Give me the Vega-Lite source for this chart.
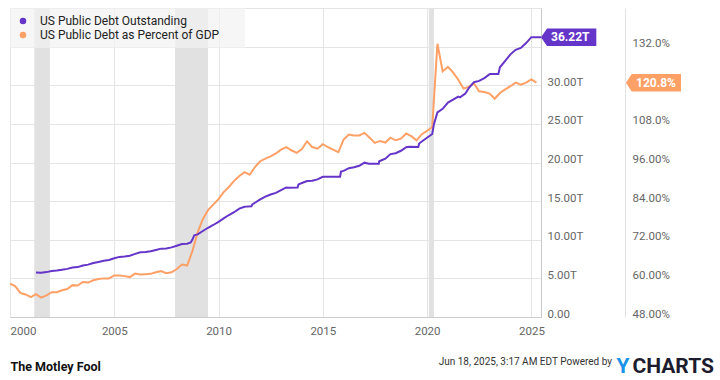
{
  "$schema": "https://vega.github.io/schema/vega-lite/v6.json",
  "width": 531,
  "height": 309,
  "autosize": {"type": "none"},
  "padding": {"left": 10, "top": 8, "right": 179, "bottom": 63},
  "background": "#ffffff",
  "config": {
    "font": "Roboto",
    "view": {"stroke": "#e2e2e2"},
    "axis": {"labelFont": "Roboto", "labelFontSize": 11.5, "labelColor": "#666666", "ticks": false, "gridColor": "#e5e5e5", "gridWidth": 1, "domainColor": "#cccccc"},
    "legend": {
      "orient": "top-left", "offset": 0, "padding": 7, "fillColor": "rgba(242,242,242,0.7)",
      "labelFont": "Roboto", "labelFontSize": 12, "labelColor": "#222222", "labelLimit": 400,
      "symbolType": "circle", "symbolSize": 42, "symbolStrokeWidth": 0, "symbolOpacity": 1,
      "rowPadding": 2, "labelOffset": 11
    }
  },
  "title": {
    "text": "Jun 18, 2025, 3:17 AM EDT Powered by",
    "orient": "bottom", "anchor": "end", "frame": "group", "dx": 71, "offset": -11,
    "baseline": "alphabetic", "align": "right",
    "font": "Roboto", "fontSize": 10, "fontWeight": "normal", "color": "#333333"
  },
  "datasets": {
    "recessions": [
      {"date": "2001-03-01", "end": "2001-11-30"},
      {"date": "2007-12-01", "end": "2009-06-30"},
      {"date": "2020-02-01", "end": "2020-04-30"}
    ],
    "debt": [
      {"date": "2001-03-31", "debt_trillions": 5.77}, {"date": "2001-06-30", "debt_trillions": 5.73}, {"date": "2001-09-30", "debt_trillions": 5.81}, {"date": "2001-12-31", "debt_trillions": 5.94},
      {"date": "2002-03-31", "debt_trillions": 6.01}, {"date": "2002-06-30", "debt_trillions": 6.13}, {"date": "2002-09-30", "debt_trillions": 6.23}, {"date": "2002-12-31", "debt_trillions": 6.41},
      {"date": "2003-03-31", "debt_trillions": 6.46}, {"date": "2003-06-30", "debt_trillions": 6.67}, {"date": "2003-09-30", "debt_trillions": 6.78}, {"date": "2003-12-31", "debt_trillions": 7.0},
      {"date": "2004-03-31", "debt_trillions": 7.13}, {"date": "2004-06-30", "debt_trillions": 7.27}, {"date": "2004-09-30", "debt_trillions": 7.38}, {"date": "2004-12-31", "debt_trillions": 7.6},
      {"date": "2005-03-31", "debt_trillions": 7.78}, {"date": "2005-06-30", "debt_trillions": 7.84}, {"date": "2005-09-30", "debt_trillions": 7.93}, {"date": "2005-12-31", "debt_trillions": 8.17},
      {"date": "2006-03-31", "debt_trillions": 8.37}, {"date": "2006-06-30", "debt_trillions": 8.42}, {"date": "2006-09-30", "debt_trillions": 8.51}, {"date": "2006-12-31", "debt_trillions": 8.68},
      {"date": "2007-03-31", "debt_trillions": 8.85}, {"date": "2007-06-30", "debt_trillions": 8.87}, {"date": "2007-09-30", "debt_trillions": 9.01}, {"date": "2007-12-31", "debt_trillions": 9.23},
      {"date": "2008-03-31", "debt_trillions": 9.44}, {"date": "2008-06-30", "debt_trillions": 9.49}, {"date": "2008-08-31", "debt_trillions": 9.64}, {"date": "2008-09-30", "debt_trillions": 10.02},
      {"date": "2008-10-31", "debt_trillions": 10.57}, {"date": "2008-12-31", "debt_trillions": 10.7},
      {"date": "2009-03-31", "debt_trillions": 11.13}, {"date": "2009-06-30", "debt_trillions": 11.55}, {"date": "2009-09-30", "debt_trillions": 11.91}, {"date": "2009-12-31", "debt_trillions": 12.31},
      {"date": "2010-03-31", "debt_trillions": 12.77}, {"date": "2010-06-30", "debt_trillions": 13.2}, {"date": "2010-09-30", "debt_trillions": 13.56}, {"date": "2010-12-31", "debt_trillions": 14.03},
      {"date": "2011-03-31", "debt_trillions": 14.27}, {"date": "2011-05-16", "debt_trillions": 14.29}, {"date": "2011-07-31", "debt_trillions": 14.34}, {"date": "2011-08-15", "debt_trillions": 14.58},
      {"date": "2011-09-30", "debt_trillions": 14.79}, {"date": "2011-12-31", "debt_trillions": 15.22},
      {"date": "2012-03-31", "debt_trillions": 15.58}, {"date": "2012-06-30", "debt_trillions": 15.86}, {"date": "2012-09-30", "debt_trillions": 16.07}, {"date": "2012-12-31", "debt_trillions": 16.43},
      {"date": "2013-03-31", "debt_trillions": 16.77}, {"date": "2013-05-19", "debt_trillions": 16.74}, {"date": "2013-10-16", "debt_trillions": 16.75}, {"date": "2013-10-31", "debt_trillions": 17.16},
      {"date": "2013-12-31", "debt_trillions": 17.35},
      {"date": "2014-03-31", "debt_trillions": 17.6}, {"date": "2014-06-30", "debt_trillions": 17.63}, {"date": "2014-09-30", "debt_trillions": 17.82}, {"date": "2014-12-31", "debt_trillions": 18.14},
      {"date": "2015-03-16", "debt_trillions": 18.15}, {"date": "2015-10-30", "debt_trillions": 18.15}, {"date": "2015-11-15", "debt_trillions": 18.82}, {"date": "2015-12-31", "debt_trillions": 18.92},
      {"date": "2016-03-31", "debt_trillions": 19.26}, {"date": "2016-06-30", "debt_trillions": 19.38}, {"date": "2016-09-30", "debt_trillions": 19.57}, {"date": "2016-12-31", "debt_trillions": 19.98},
      {"date": "2017-03-16", "debt_trillions": 19.85}, {"date": "2017-09-07", "debt_trillions": 19.85}, {"date": "2017-09-15", "debt_trillions": 20.16}, {"date": "2017-12-31", "debt_trillions": 20.49},
      {"date": "2018-03-31", "debt_trillions": 21.09}, {"date": "2018-06-30", "debt_trillions": 21.2}, {"date": "2018-09-30", "debt_trillions": 21.52}, {"date": "2018-12-31", "debt_trillions": 21.97},
      {"date": "2019-03-01", "debt_trillions": 22.03}, {"date": "2019-07-31", "debt_trillions": 22.02}, {"date": "2019-08-15", "debt_trillions": 22.45}, {"date": "2019-09-30", "debt_trillions": 22.72},
      {"date": "2019-12-31", "debt_trillions": 23.2},
      {"date": "2020-03-31", "debt_trillions": 23.69}, {"date": "2020-04-30", "debt_trillions": 24.97}, {"date": "2020-06-30", "debt_trillions": 26.48}, {"date": "2020-09-30", "debt_trillions": 26.95},
      {"date": "2020-12-31", "debt_trillions": 27.75},
      {"date": "2021-03-31", "debt_trillions": 28.13}, {"date": "2021-06-30", "debt_trillions": 28.53}, {"date": "2021-08-01", "debt_trillions": 28.43}, {"date": "2021-10-31", "debt_trillions": 28.91},
      {"date": "2021-12-31", "debt_trillions": 29.62},
      {"date": "2022-03-31", "debt_trillions": 30.4}, {"date": "2022-06-30", "debt_trillions": 30.57}, {"date": "2022-09-30", "debt_trillions": 30.93}, {"date": "2022-12-31", "debt_trillions": 31.42},
      {"date": "2023-01-19", "debt_trillions": 31.46}, {"date": "2023-06-02", "debt_trillions": 31.46}, {"date": "2023-06-30", "debt_trillions": 32.33}, {"date": "2023-09-30", "debt_trillions": 33.17},
      {"date": "2023-12-31", "debt_trillions": 34.0},
      {"date": "2024-03-31", "debt_trillions": 34.59}, {"date": "2024-06-30", "debt_trillions": 34.83}, {"date": "2024-09-30", "debt_trillions": 35.46}, {"date": "2024-12-31", "debt_trillions": 36.22},
      {"date": "2025-06-18", "debt_trillions": 36.22}
    ],
    "debt_latest": [
      {"date": "2025-06-18", "debt_trillions": 36.22, "label": "36.22T"}
    ],
    "pct": [
      {"date": "1999-12-31", "pct_of_gdp": 58.4}, {"date": "2000-03-31", "pct_of_gdp": 57.6}, {"date": "2000-06-30", "pct_of_gdp": 55.5}, {"date": "2000-09-30", "pct_of_gdp": 55.0},
      {"date": "2000-12-31", "pct_of_gdp": 54.2}, {"date": "2001-03-31", "pct_of_gdp": 55.1}, {"date": "2001-06-30", "pct_of_gdp": 54.0}, {"date": "2001-09-30", "pct_of_gdp": 54.7},
      {"date": "2001-12-31", "pct_of_gdp": 55.7}, {"date": "2002-03-31", "pct_of_gdp": 55.7}, {"date": "2002-06-30", "pct_of_gdp": 56.3}, {"date": "2002-09-30", "pct_of_gdp": 56.7},
      {"date": "2002-12-31", "pct_of_gdp": 57.9}, {"date": "2003-03-31", "pct_of_gdp": 57.8}, {"date": "2003-06-30", "pct_of_gdp": 58.9}, {"date": "2003-09-30", "pct_of_gdp": 58.7},
      {"date": "2003-12-31", "pct_of_gdp": 59.4}, {"date": "2004-03-31", "pct_of_gdp": 59.8}, {"date": "2004-06-30", "pct_of_gdp": 60.0}, {"date": "2004-09-30", "pct_of_gdp": 60.0},
      {"date": "2004-12-31", "pct_of_gdp": 60.9}, {"date": "2005-03-31", "pct_of_gdp": 60.9}, {"date": "2005-06-30", "pct_of_gdp": 60.7}, {"date": "2005-09-30", "pct_of_gdp": 60.4},
      {"date": "2005-12-31", "pct_of_gdp": 61.5}, {"date": "2006-03-31", "pct_of_gdp": 61.2}, {"date": "2006-06-30", "pct_of_gdp": 61.3}, {"date": "2006-09-30", "pct_of_gdp": 61.4},
      {"date": "2006-12-31", "pct_of_gdp": 61.9}, {"date": "2007-03-31", "pct_of_gdp": 62.3}, {"date": "2007-06-30", "pct_of_gdp": 61.6}, {"date": "2007-09-30", "pct_of_gdp": 61.9},
      {"date": "2007-12-31", "pct_of_gdp": 62.9}, {"date": "2008-03-31", "pct_of_gdp": 64.3}, {"date": "2008-06-30", "pct_of_gdp": 64.0}, {"date": "2008-09-30", "pct_of_gdp": 68.5},
      {"date": "2008-12-31", "pct_of_gdp": 74.3}, {"date": "2009-03-31", "pct_of_gdp": 78.4}, {"date": "2009-06-30", "pct_of_gdp": 81.2}, {"date": "2009-09-30", "pct_of_gdp": 82.9},
      {"date": "2009-12-31", "pct_of_gdp": 84.6}, {"date": "2010-03-31", "pct_of_gdp": 86.8}, {"date": "2010-06-30", "pct_of_gdp": 88.4}, {"date": "2010-09-30", "pct_of_gdp": 90.3},
      {"date": "2010-12-31", "pct_of_gdp": 91.8}, {"date": "2011-03-31", "pct_of_gdp": 93.0}, {"date": "2011-06-30", "pct_of_gdp": 92.2}, {"date": "2011-09-30", "pct_of_gdp": 94.6},
      {"date": "2011-12-31", "pct_of_gdp": 96.4}, {"date": "2012-03-31", "pct_of_gdp": 97.2}, {"date": "2012-06-30", "pct_of_gdp": 97.9}, {"date": "2012-09-30", "pct_of_gdp": 98.8},
      {"date": "2012-12-31", "pct_of_gdp": 100.0}, {"date": "2013-03-31", "pct_of_gdp": 100.8}, {"date": "2013-06-30", "pct_of_gdp": 99.8}, {"date": "2013-09-30", "pct_of_gdp": 99.0},
      {"date": "2013-12-31", "pct_of_gdp": 100.2}, {"date": "2014-03-31", "pct_of_gdp": 102.6}, {"date": "2014-06-30", "pct_of_gdp": 100.8}, {"date": "2014-09-30", "pct_of_gdp": 100.3},
      {"date": "2014-12-31", "pct_of_gdp": 101.7}, {"date": "2015-03-31", "pct_of_gdp": 100.8}, {"date": "2015-06-30", "pct_of_gdp": 100.0}, {"date": "2015-09-30", "pct_of_gdp": 99.2},
      {"date": "2015-12-31", "pct_of_gdp": 103.1}, {"date": "2016-03-31", "pct_of_gdp": 104.7}, {"date": "2016-06-30", "pct_of_gdp": 104.4}, {"date": "2016-09-30", "pct_of_gdp": 104.4},
      {"date": "2016-12-31", "pct_of_gdp": 105.2}, {"date": "2017-03-31", "pct_of_gdp": 103.7}, {"date": "2017-06-30", "pct_of_gdp": 102.1}, {"date": "2017-09-30", "pct_of_gdp": 102.7},
      {"date": "2017-12-31", "pct_of_gdp": 102.2}, {"date": "2018-03-31", "pct_of_gdp": 103.7}, {"date": "2018-06-30", "pct_of_gdp": 102.9}, {"date": "2018-09-30", "pct_of_gdp": 103.4},
      {"date": "2018-12-31", "pct_of_gdp": 105.0}, {"date": "2019-03-31", "pct_of_gdp": 104.2}, {"date": "2019-06-30", "pct_of_gdp": 102.9}, {"date": "2019-09-30", "pct_of_gdp": 104.8},
      {"date": "2019-12-31", "pct_of_gdp": 105.8}, {"date": "2020-03-31", "pct_of_gdp": 107.0}, {"date": "2020-06-30", "pct_of_gdp": 132.9}, {"date": "2020-09-30", "pct_of_gdp": 124.3},
      {"date": "2020-12-31", "pct_of_gdp": 125.7}, {"date": "2021-03-31", "pct_of_gdp": 124.0}, {"date": "2021-06-30", "pct_of_gdp": 121.7}, {"date": "2021-09-30", "pct_of_gdp": 119.0},
      {"date": "2021-12-31", "pct_of_gdp": 119.5}, {"date": "2022-03-31", "pct_of_gdp": 120.6}, {"date": "2022-06-30", "pct_of_gdp": 118.1}, {"date": "2022-09-30", "pct_of_gdp": 117.9},
      {"date": "2022-12-31", "pct_of_gdp": 117.4}, {"date": "2023-03-31", "pct_of_gdp": 115.8}, {"date": "2023-06-30", "pct_of_gdp": 117.6}, {"date": "2023-09-30", "pct_of_gdp": 118.7},
      {"date": "2023-12-31", "pct_of_gdp": 119.7}, {"date": "2024-03-31", "pct_of_gdp": 120.8}, {"date": "2024-06-30", "pct_of_gdp": 120.2}, {"date": "2024-09-30", "pct_of_gdp": 120.8},
      {"date": "2024-12-31", "pct_of_gdp": 121.8}, {"date": "2025-03-31", "pct_of_gdp": 120.8}
    ],
    "pct_latest": [
      {"date": "2025-06-18", "pct_of_gdp": 120.8, "label": "120.8%"}
    ]
  },
  "encoding": {
    "x": {
      "field": "date", "type": "temporal",
      "scale": {"type": "utc", "domain": [{"year": 2000, "month": 1, "date": 1, "utc": true}, {"year": 2025, "month": 6, "date": 18, "utc": true}]},
      "axis": {
        "title": "The Motley Fool", "titleAnchor": "start", "titleAlign": "left", "titleX": 0, "titleY": 53,
        "titleBaseline": "alphabetic", "titleFontSize": 12.5, "titleFontWeight": "bold", "titleColor": "#111111", "titleFont": "Roboto",
        "format": "%Y", "tickCount": {"interval": "year", "step": 5}, "labelFlush": true, "labelPadding": 8,
        "grid": true, "domainColor": "#cccccc"
      }
    }
  },
  "layer": [
    {
      "data": {"name": "recessions"},
      "mark": {"type": "rect", "color": "#e1e1e1"},
      "encoding": {"x2": {"field": "end"}}
    },
    {
      "encoding": {
        "y": {
          "field": "pct_of_gdp", "type": "quantitative",
          "scale": {"domain": [48, 144], "zero": false, "nice": false},
          "axis": {
            "orient": "right", "offset": 84, "grid": false, "domainColor": "#e2e2e2", "labelPadding": 7,
            "values": [48, 60, 72, 84, 96, 108, 120, 132, 144],
            "labelExpr": "datum.value == 120 || datum.value == 144 ? '' : format(datum.value, '.4r') + '%'",
            "labelBaseline": "alphabetic",
            "title": "CHARTS", "titleAngle": 0, "titleX": 7, "titleY": 364, "titleAlign": "left", "titleBaseline": "alphabetic",
            "titleFontSize": 21, "titleFontWeight": "bold", "titleColor": "#1c1c2e", "titleFont": "Roboto"
          }
        }
      },
      "layer": [
        {
          "data": {"name": "pct"},
          "mark": {"type": "line", "strokeWidth": 2, "clip": true},
          "encoding": {"color": {"datum": "US Public Debt as Percent of GDP", "type": "nominal"}}
        },
        {
          "data": {"name": "pct_latest"},
          "mark": {"type": "point", "shape": "M8.5,0L9.07,-0.88L14,-0.88L14,0.88L9.07,0.88Z", "size": 400, "filled": true, "opacity": 1, "color": "#ffa066", "strokeWidth": 0}
        },
        {
          "data": {"name": "pct_latest"},
          "mark": {"type": "text", "align": "left", "baseline": "middle", "dx": 95, "color": "#ffffff", "fontWeight": "bold", "fontSize": 12, "font": "Roboto"},
          "encoding": {"text": {"field": "label"}}
        }
      ]
    },
    {
      "encoding": {
        "y": {
          "field": "debt_trillions", "type": "quantitative",
          "scale": {"domain": [0, 40], "nice": false},
          "axis": {
            "orient": "right", "offset": 0, "grid": true, "domainColor": "#c8c8c8", "labelPadding": 6,
            "values": [0, 5, 10, 15, 20, 25, 30, 35, 40],
            "labelExpr": "datum.value >= 35 ? '' : datum.value == 0 ? '0.00' : format(datum.value, '.2f') + 'T'",
            "labelBaseline": "alphabetic",
            "title": "Y", "titleAngle": 0, "titleX": 75, "titleY": 364, "titleAlign": "left", "titleBaseline": "alphabetic",
            "titleFontSize": 21, "titleFontWeight": "bold", "titleColor": "#1b93e8", "titleFont": "Roboto"
          }
        }
      },
      "layer": [
        {
          "data": {"name": "debt"},
          "mark": {"type": "line", "strokeWidth": 2, "clip": true},
          "encoding": {
            "color": {
              "datum": "US Public Debt Outstanding", "type": "nominal",
              "scale": {"domain": ["US Public Debt Outstanding", "US Public Debt as Percent of GDP"], "range": ["#6535c9", "#ffa066"]},
              "legend": {
                "title": "\u00a0", "titleOrient": "right", "titlePadding": 19, "titleFontSize": 12,
                "encode": {"symbols": {"update": {"fill": {"scale": "color", "field": "value"}, "stroke": {"value": "transparent"}}}}
              }
            }
          }
        },
        {
          "data": {"name": "debt_latest"},
          "mark": {"type": "point", "shape": "M0,0L0.6,-0.88L5.53,-0.88L5.53,0.88L0.6,0.88Z", "size": 400, "filled": true, "opacity": 1, "color": "#6535c9", "strokeWidth": 0}
        },
        {
          "data": {"name": "debt_latest"},
          "mark": {"type": "text", "align": "left", "baseline": "middle", "dx": 10, "color": "#ffffff", "fontWeight": "bold", "fontSize": 12, "font": "Roboto"},
          "encoding": {"text": {"field": "label"}}
        }
      ]
    }
  ],
  "resolve": {"scale": {"y": "independent"}, "axis": {"y": "independent"}}
}
